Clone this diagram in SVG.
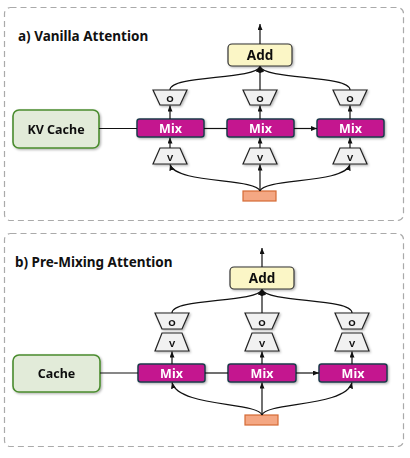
<svg xmlns="http://www.w3.org/2000/svg" width="410" height="458" viewBox="0 0 410 458">
<defs>
<marker id="ah" viewBox="0 0 6 5" refX="6" refY="2.5" markerWidth="6" markerHeight="5" markerUnits="userSpaceOnUse" orient="auto">
<path d="M0,0 L6,2.5 L0,5 z" fill="#111"/>
</marker>
<filter id="sh" x="-20%" y="-20%" width="150%" height="160%">
<feDropShadow dx="1.2" dy="1.2" stdDeviation="0.8" flood-color="#000" flood-opacity="0.3"/>
</filter>
</defs>
<style>
text{font-family:"Noto Sans","Open Sans","DejaVu Sans",sans-serif;font-weight:700;text-anchor:middle}
.panel{fill:#fff;stroke:#aaa;stroke-width:1.2;stroke-dasharray:6 4}
.title{font-size:13.5px;fill:#111;text-anchor:start}
.add rect{fill:#fbf6c6;stroke:#333;stroke-width:1.2}
.add text{font-size:13.5px;fill:#111}
.mix rect{fill:#c4168f;stroke:#1e3b4b;stroke-width:1.5}
.mix text{font-size:12.5px;fill:#fff}
.tr polygon{fill:#f1f1f1;stroke:#222;stroke-width:1.2}
.tr text{font-size:9.5px;fill:#111}
.cache rect{fill:#e2ebd9;stroke:#4a8c2e;stroke-width:1.6}
.cache text{font-size:12.5px;fill:#111}
.inp rect{fill:#f4a783;stroke:#d46a35;stroke-width:1.2}
.conn path,.conn line{fill:none;stroke:#111;stroke-width:1.2}
.arr{marker-end:url(#ah)}
</style>

<g id="panel-a">
<rect class="panel" x="4.5" y="7.5" width="399" height="213" rx="6"/>
<text class="title" x="18" y="41">a) Vanilla Attention</text>
</g>

<g id="a-add" class="add" filter="url(#sh)"><rect x="228" y="44" width="64" height="22" rx="4"/><text x="260" y="60">Add</text></g>
<g id="a-cache" class="cache" filter="url(#sh)"><rect x="13" y="110" width="86" height="38" rx="6"/><text x="56" y="133.5">KV Cache</text></g>
<g id="a-mix1" class="mix" filter="url(#sh)"><rect x="137" y="119" width="67" height="18" rx="2.5"/><text x="170.5" y="132.5">Mix</text></g>
<g id="a-mix2" class="mix" filter="url(#sh)"><rect x="227" y="119" width="67" height="18" rx="2.5"/><text x="260.5" y="132.5">Mix</text></g>
<g id="a-mix3" class="mix" filter="url(#sh)"><rect x="317" y="119" width="67" height="18" rx="2.5"/><text x="350.5" y="132.5">Mix</text></g>
<g id="a-o1" class="tr" filter="url(#sh)"><polygon points="153,90 187,90 180,105 160,105"/><text x="170" y="102">O</text></g>
<g id="a-o2" class="tr" filter="url(#sh)"><polygon points="243,90 277,90 270,105 250,105"/><text x="260" y="102">O</text></g>
<g id="a-o3" class="tr" filter="url(#sh)"><polygon points="333,90 367,90 360,105 340,105"/><text x="350" y="102">O</text></g>
<g id="a-v1" class="tr" filter="url(#sh)"><polygon points="160,148 180,148 187,164 153,164"/><text x="170" y="161">V</text></g>
<g id="a-v2" class="tr" filter="url(#sh)"><polygon points="250,148 270,148 277,164 243,164"/><text x="260" y="161">V</text></g>
<g id="a-v3" class="tr" filter="url(#sh)"><polygon points="340,148 360,148 367,164 333,164"/><text x="350" y="161">V</text></g>
<g id="a-input" class="inp"><rect x="243" y="191" width="33" height="10"/></g>

<g id="a-connectors" class="conn">
<line x1="260" y1="44" x2="260" y2="24" class="arr"/>
<line x1="99" y1="128.5" x2="137" y2="128.5"/>
<line x1="204" y1="128.5" x2="227" y2="128.5"/>
<line x1="294" y1="128.5" x2="317" y2="128.5" class="arr"/>
<line x1="170" y1="119" x2="170" y2="105.5" class="arr"/>
<line x1="260" y1="119" x2="260" y2="105.5" class="arr"/>
<line x1="350" y1="119" x2="350" y2="105.5" class="arr"/>
<line x1="170" y1="148" x2="170" y2="137.5" class="arr"/>
<line x1="260" y1="148" x2="260" y2="137.5" class="arr"/>
<line x1="350" y1="148" x2="350" y2="137.5" class="arr"/>
<path d="M260,191 C256,178 176,184 170,164.5" class="arr"/>
<line x1="260" y1="191" x2="260" y2="164.5" class="arr"/>
<path d="M260,191 C264,178 344,184 350,164.5" class="arr"/>
<path d="M170,90 C170,75 255,80 260,66.5" class="arr"/>
<line x1="260" y1="90" x2="260" y2="66.5" class="arr"/>
<path d="M350,90 C350,75 265,80 260,66.5" class="arr"/>
</g>

<g id="panel-b">
<rect class="panel" x="4.5" y="233.5" width="399" height="213" rx="6"/>
<text class="title" x="15" y="267">b) Pre-Mixing Attention</text>
</g>

<g id="b-add" class="add" filter="url(#sh)"><rect x="230" y="267" width="64" height="22" rx="4"/><text x="262" y="283">Add</text></g>
<g id="b-cache" class="cache" filter="url(#sh)"><rect x="13" y="355" width="87" height="37" rx="6"/><text x="56.5" y="378">Cache</text></g>
<g id="b-mix1" class="mix" filter="url(#sh)"><rect x="138" y="364" width="67" height="18" rx="2.5"/><text x="171.5" y="377.5">Mix</text></g>
<g id="b-mix2" class="mix" filter="url(#sh)"><rect x="228" y="364" width="68" height="18" rx="2.5"/><text x="262" y="377.5">Mix</text></g>
<g id="b-mix3" class="mix" filter="url(#sh)"><rect x="319" y="364" width="68" height="18" rx="2.5"/><text x="353" y="377.5">Mix</text></g>
<g id="b-o1" class="tr" filter="url(#sh)"><polygon points="155,313 189,313 182,329 162,329"/><text x="172" y="325.5">O</text></g>
<g id="b-o2" class="tr" filter="url(#sh)"><polygon points="245,313 279,313 272,329 252,329"/><text x="262" y="325.5">O</text></g>
<g id="b-o3" class="tr" filter="url(#sh)"><polygon points="335,313 369,313 362,329 342,329"/><text x="352" y="325.5">O</text></g>
<g id="b-v1" class="tr" filter="url(#sh)"><polygon points="162,333 182,333 189,351 155,351"/><text x="172" y="347">V</text></g>
<g id="b-v2" class="tr" filter="url(#sh)"><polygon points="252,333 272,333 279,351 245,351"/><text x="262" y="347">V</text></g>
<g id="b-v3" class="tr" filter="url(#sh)"><polygon points="342,333 362,333 369,351 335,351"/><text x="352" y="347">V</text></g>
<g id="b-input" class="inp"><rect x="245" y="415" width="33" height="10"/></g>

<g id="b-connectors" class="conn">
<line x1="262" y1="267" x2="262" y2="248" class="arr"/>
<line x1="100" y1="373" x2="138" y2="373"/>
<line x1="205" y1="373" x2="228" y2="373"/>
<line x1="296" y1="373" x2="319" y2="373" class="arr"/>
<line x1="172" y1="364" x2="172" y2="351.5" class="arr"/>
<line x1="262" y1="364" x2="262" y2="351.5" class="arr"/>
<line x1="352" y1="364" x2="352" y2="351.5" class="arr"/>
<path d="M262,415 C258,402 178,407 172,382.5" class="arr"/>
<line x1="262" y1="415" x2="262" y2="382.5" class="arr"/>
<path d="M262,415 C266,402 346,407 352,382.5" class="arr"/>
<path d="M172,313 C172,298 257,303 262,289.5" class="arr"/>
<line x1="262" y1="313" x2="262" y2="289.5" class="arr"/>
<path d="M352,313 C352,298 267,303 262,289.5" class="arr"/>
</g>
</svg>
